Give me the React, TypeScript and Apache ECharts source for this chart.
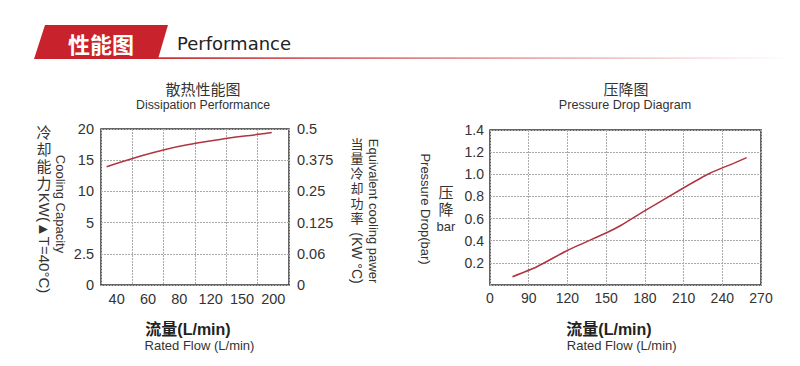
import React, { useEffect, useRef } from "react";
import * as echarts from "echarts";

// ---- Dissipation performance chart ----
const dissFlowLabels = ["40", "60", "80", "120", "150", "200"];
const capacityLabels = ["0", "2.5", "5", "10", "15", "20"];
const powerLabels = ["0", "0.06", "0.125", "0.25", "0.375", "0.5"];
// positions on the (equally spaced) flow / capacity scales
const coolingFlowPos = [0.18, 0.93, 1.99, 3.02, 4.03, 5.03, 5.45];
const coolingLevel = [3.79, 4.03, 4.33, 4.54, 4.7, 4.83, 4.89];

// ---- Pressure drop chart ----
const pdFlowLabels = ["0", "90", "120", "150", "180", "210", "240", "270"];
const pdFlowPos = [0.58, 1.21, 2.02, 3.01, 3.4, 3.96, 4.95, 5.68, 6.29, 6.63];
const pdValue = [0.075, 0.165, 0.316, 0.472, 0.542, 0.662, 0.867, 1.009, 1.099, 1.15];

const LAT = "'Liberation Sans', Arial, sans-serif";
const CJK = "'Noto Sans CJK SC', 'Liberation Sans', sans-serif";
const CJK_TIGHT = "'Liberation Sans', 'Noto Sans CJK SC', sans-serif";
const TXT = "#333";
const RED = "#c8232c";
const LINE = "#b03440";

const gridLine = { show: true, lineStyle: { color: "#aaa", type: [2, 1] as any, width: 1 } };

function txt(text: string, x: number, y: number, size: number, extra: any = {}, el: any = {}) {
  return {
    type: "text",
    x,
    y,
    ...el,
    style: {
      text,
      fontSize: size,
      fontFamily: LAT,
      fill: TXT,
      align: "center",
      verticalAlign: "middle",
      ...extra,
    },
  };
}

function stack(chars: string, x: number, y0: number, step: number, size: number) {
  return chars.split("").map((c, i) => txt(c, x, y0 + i * step, size, { fontFamily: CJK_TIGHT }));
}

export default function App() {
  const ref = useRef<HTMLDivElement>(null);
  useEffect(() => {
    document.body.style.margin = "0";
    const chart = echarts.init(ref.current!, undefined, { renderer: "svg" });
    const rot = -Math.PI / 2;
    chart.setOption({
      animation: false,
      backgroundColor: "#fff",
      grid: [
        { left: 101, top: 129, width: 188, height: 156, show: true, borderColor: "#333", borderWidth: 1.5 },
        { left: 490, top: 130, width: 271, height: 155, show: true, borderColor: "#333", borderWidth: 1.5 },
      ],
      xAxis: [
        {
          type: "category",
          gridIndex: 0,
          data: dissFlowLabels,
          boundaryGap: true,
          axisLine: { show: false },
          axisTick: { show: false },
          axisLabel: { interval: 0, fontSize: 14.5, color: TXT, fontFamily: LAT, margin: 6 },
          splitLine: { ...gridLine, interval: 0 },
        },
        { type: "value", gridIndex: 0, min: 0, max: 6, show: false },
        {
          type: "value",
          gridIndex: 1,
          min: 0,
          max: 7,
          interval: 1,
          axisLine: { show: false },
          axisTick: { show: false },
          axisLabel: {
            fontSize: 14,
            color: TXT,
            fontFamily: LAT,
            margin: 6,
            formatter: (v: number) => pdFlowLabels[Math.round(v)] ?? "",
          },
          splitLine: gridLine,
        },
      ],
      yAxis: [
        {
          type: "value",
          gridIndex: 0,
          min: 0,
          max: 5,
          interval: 1,
          axisLine: { show: false },
          axisTick: { show: false },
          axisLabel: {
            fontSize: 14.5,
            color: TXT,
            fontFamily: LAT,
            margin: 7,
            formatter: (v: number) => capacityLabels[Math.round(v)] ?? "",
          },
          splitLine: gridLine,
        },
        {
          type: "value",
          gridIndex: 0,
          position: "right",
          min: 0,
          max: 5,
          interval: 1,
          axisLine: { show: false },
          axisTick: { show: false },
          axisLabel: {
            fontSize: 14.5,
            color: TXT,
            fontFamily: LAT,
            margin: 8,
            formatter: (v: number) => powerLabels[Math.round(v)] ?? "",
          },
          splitLine: { show: false },
        },
        {
          type: "value",
          gridIndex: 1,
          min: 0,
          max: 1.4,
          interval: 0.2,
          axisLine: { show: false },
          axisTick: { show: false },
          axisLabel: {
            fontSize: 14,
            color: TXT,
            fontFamily: LAT,
            margin: 6,
            formatter: (v: number) => (v < 0.01 ? "" : v.toFixed(1)),
          },
          splitLine: gridLine,
        },
      ],
      series: [
        {
          type: "line",
          xAxisIndex: 1,
          yAxisIndex: 0,
          data: coolingFlowPos.map((x, i) => [x, coolingLevel[i]]),
          smooth: true,
          symbol: "none",
          lineStyle: { color: LINE, width: 1.5 },
        },
        {
          type: "line",
          xAxisIndex: 2,
          yAxisIndex: 2,
          data: pdFlowPos.map((x, i) => [x, pdValue[i]]),
          smooth: 0.2,
          symbol: "none",
          lineStyle: { color: LINE, width: 1.5 },
        },
      ],
      graphic: [
        // header
        {
          type: "rect",
          shape: { x: 158, y: 57.3, width: 632, height: 1.6 },
          style: {
            fill: {
              type: "linear",
              x: 0,
              y: 0,
              x2: 1,
              y2: 0,
              colorStops: [
                { offset: 0, color: "rgba(200,35,44,0.95)" },
                { offset: 1, color: "rgba(200,35,44,0)" },
              ],
            },
          },
        },
        {
          type: "polygon",
          shape: { points: [[34, 59], [45, 25], [168, 25], [158, 59]] },
          style: { fill: RED },
        },
        txt("性能图", 101, 43, 22, { fill: "#fff", fontWeight: "bold", fontFamily: CJK }),
        txt("Performance", 177, 43, 18, { align: "left", fill: "#222", fontFamily: "'DejaVu Sans', sans-serif" }),

        // left chart titles
        txt("散热性能图", 203, 89, 15, { fontFamily: CJK_TIGHT }),
        txt("Dissipation Performance", 203, 104.5, 12.3),
        // left outer labels
        ...stack("冷却能力", 44, 132, 17, 15),
        txt("KW(▲T=40°C)", 44, 243, 15, {}, { rotation: rot }),
        txt("Cooling Capacity", 60, 204, 13, {}, { rotation: rot }),
        // right outer labels
        ...stack("当量冷却功率", 357, 144, 14.8, 13),
        txt("(KW °C)", 357, 258, 14, {}, { rotation: rot }),
        txt("Equivalent cooling pawer", 373, 211, 13, {}, { rotation: rot }),
        // left bottom
        txt("流量(L/min)", 188, 329, 16, { fontWeight: "bold", fontFamily: CJK_TIGHT, fill: "#222" }),
        txt("Rated Flow (L/min)", 199.5, 345, 13),

        // right chart titles
        txt("压降图", 626, 89, 15, { fontFamily: CJK_TIGHT }),
        txt("Pressure Drop Diagram", 625, 104.5, 12.6),
        txt("Pressure Drop(bar)", 425, 209, 13, {}, { rotation: rot }),
        ...stack("压降", 446, 192, 17, 15),
        txt("bar", 446, 226, 13),
        // right bottom
        txt("流量(L/min)", 609, 329, 16, { fontWeight: "bold", fontFamily: CJK_TIGHT, fill: "#222" }),
        txt("Rated Flow (L/min)", 621.7, 345, 13),
      ],
    });
    return () => chart.dispose();
  }, []);
  return <div ref={ref} style={{ width: 800, height: 366 }} />;
}
